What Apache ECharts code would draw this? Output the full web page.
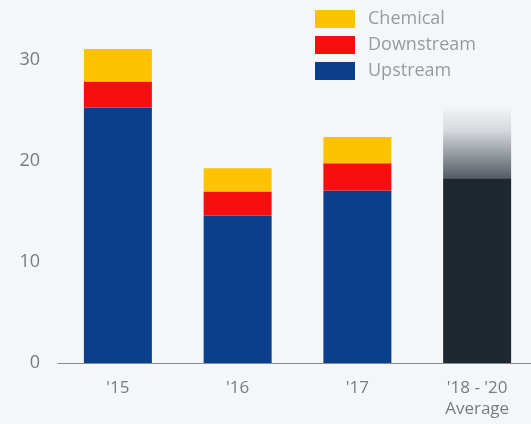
<!DOCTYPE html>
<html>
<head>
<meta charset="utf-8">
<script src="https://cdn.jsdelivr.net/npm/echarts@6/dist/echarts.min.js"></script>
<style>
html,body{margin:0;padding:0;background:#f4f7fa;overflow:hidden;width:531px;height:424px;}
#c{width:537px;height:424px;}
</style>
</head>
<body>
<div id="c"></div>
<script>
const categories = ["'15", "'16", "'17", "'18 - '20\nAverage"];
const upstream = [25.3, 14.6, 17.1, null];
const downstream = [2.6, 2.4, 2.7, null];
const chemical = [3.2, 2.3, 2.6, null];
const averageBase = [null, null, null, 18.3];
const averageFade = [null, null, null, 7.2];
const yTicks = [0, 10, 20, 30];

const chart = echarts.init(document.getElementById('c'), null, {renderer: 'canvas'});
const font = "'Open Sans', 'Noto Sans', sans-serif";
chart.setOption({
  backgroundColor: '#f4f7fa',
  animation: false,
  textStyle: {fontFamily: font},
  legend: {
    data: ['Chemical', 'Downstream', 'Upstream'],
    orient: 'vertical',
    left: 315, top: 10, padding: 0,
    itemWidth: 40, itemHeight: 18, itemGap: 8,
    icon: 'rect',
    selectedMode: false,
    textStyle: {color: '#9a9a9a', fontSize: 18, fontFamily: font, padding: [0,0,0,8]}
  },
  grid: {left: 58, right: 0, top: 40, bottom: 61, containLabel: false},
  xAxis: {
    type: 'category',
    data: categories,
    axisLine: {lineStyle: {color: '#8a8a8a', width: 1}},
    axisTick: {show: false},
    axisLabel: {color: '#7a7a7a', fontSize: 17, lineHeight: 21, margin: 15, fontFamily: font}
  },
  yAxis: {
    type: 'value',
    min: yTicks[0], max: 32, interval: 10,
    axisLine: {show: false},
    axisTick: {show: false},
    splitLine: {show: false},
    axisLabel: {color: '#7a7a7a', fontSize: 18, margin: 18, fontFamily: font, showMaxLabel: false,
      formatter: v => (yTicks.indexOf(v) >= 0 ? String(v) : '')}
  },
  series: [
    {name: 'Upstream', type: 'bar', stack: 's', data: upstream, barWidth: 68,
     itemStyle: {color: '#0b3f8c'}},
    {name: 'Downstream', type: 'bar', stack: 's', data: downstream,
     itemStyle: {color: '#f70f0f'}},
    {name: 'Chemical', type: 'bar', stack: 's', data: chemical,
     itemStyle: {color: '#fdc200'}},
    {name: 'Average', type: 'bar', stack: 's', data: averageBase,
     itemStyle: {color: '#1f2731'}},
    {name: 'AverageFade', type: 'bar', stack: 's', data: averageFade,
     itemStyle: {color: new echarts.graphic.LinearGradient(0,0,0,1,[
       {offset: 0, color: 'rgba(31,39,49,0)'},
       {offset: 0.35, color: 'rgba(31,39,49,0.15)'},
       {offset: 1, color: 'rgba(31,39,49,0.75)'}
     ])}}
  ]
});
</script>
</body>
</html>
